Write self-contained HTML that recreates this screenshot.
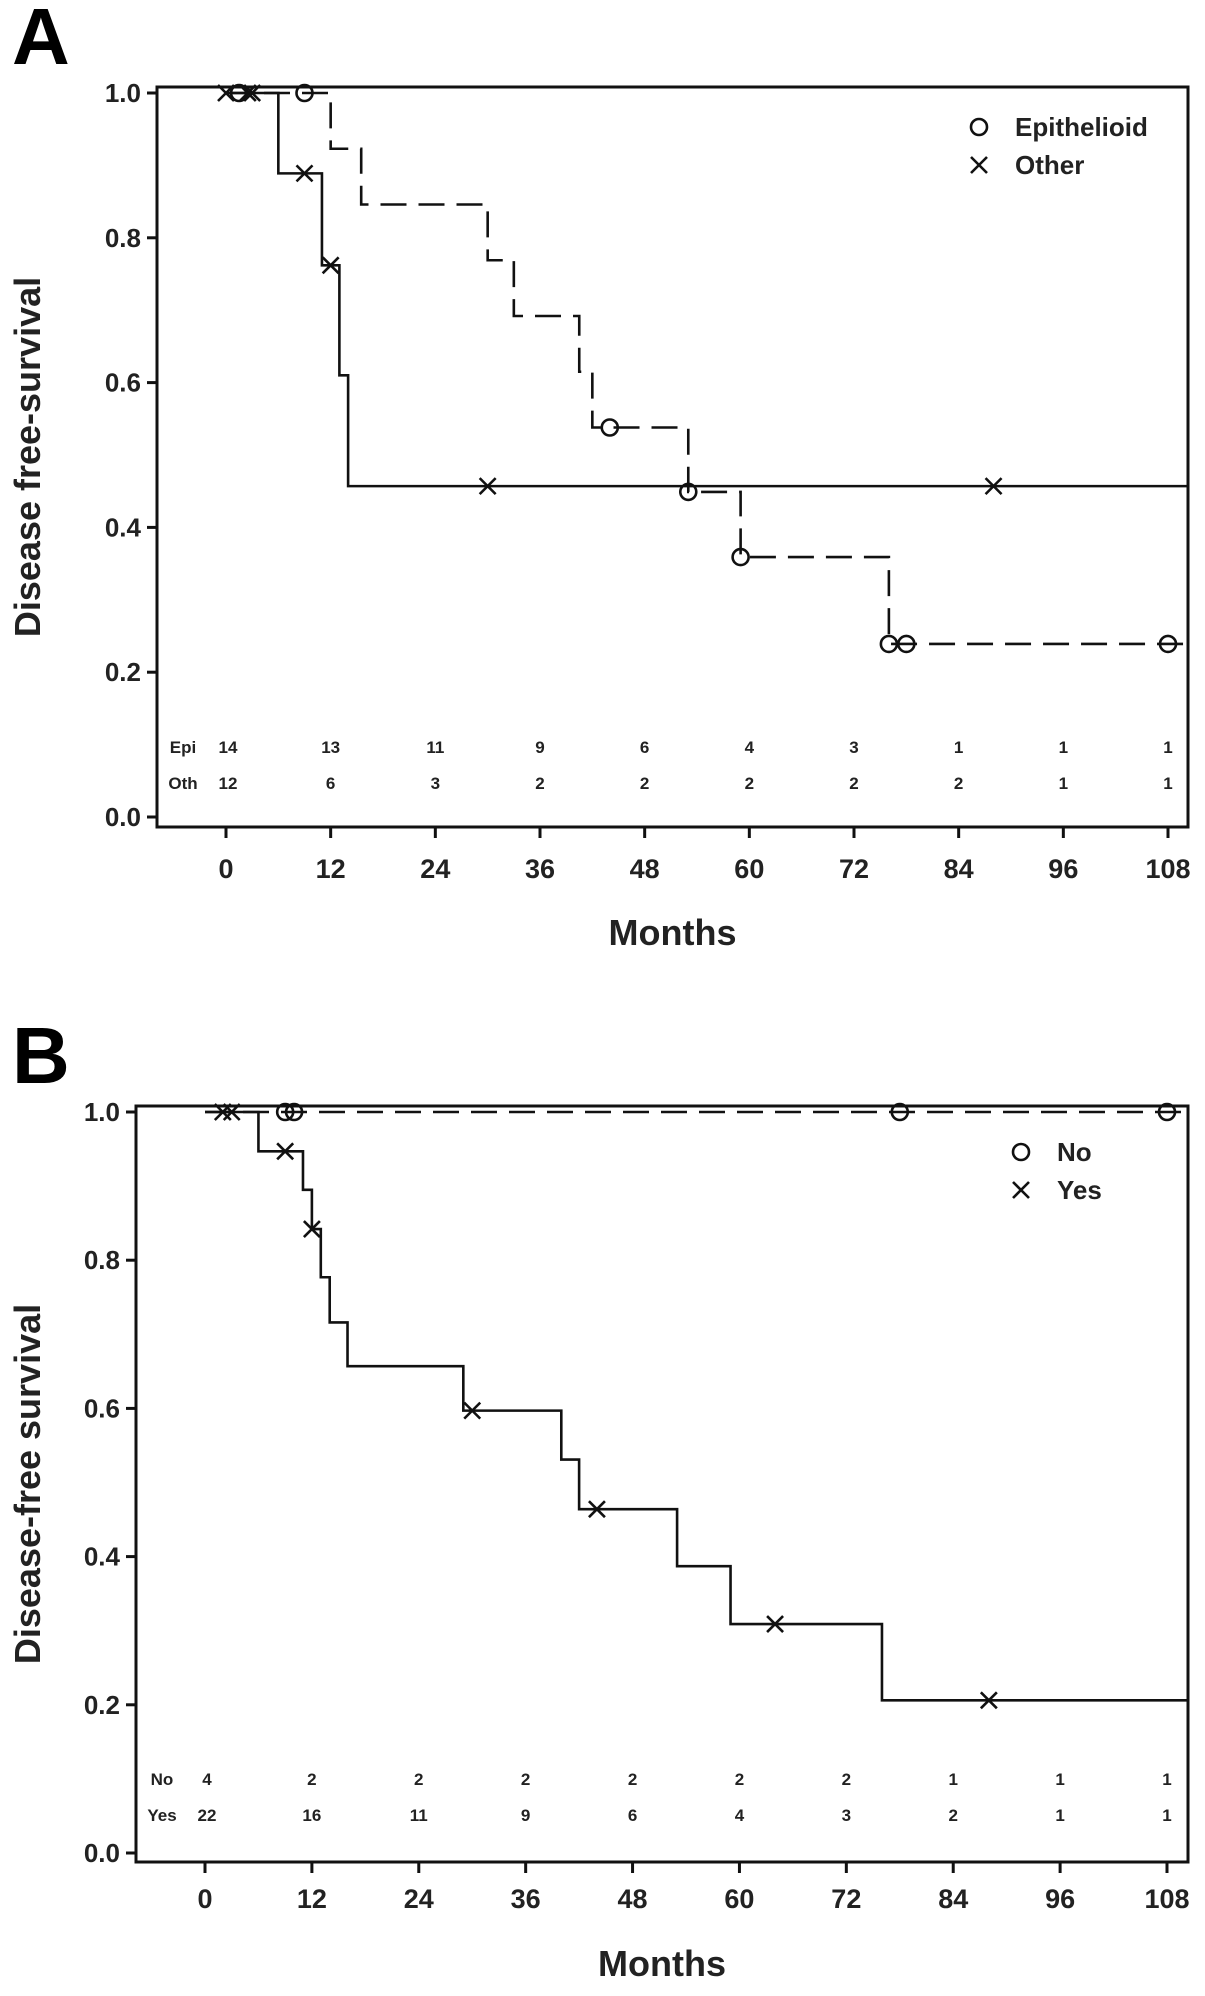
<!DOCTYPE html>
<html><head><meta charset="utf-8">
<style>
html,body{margin:0;padding:0;background:#fff;}
svg{display:block;font-family:"Liberation Sans",Arial,sans-serif;}
</style></head>
<body>
<svg id="fig" width="1205" height="1996" viewBox="0 0 1205 1996" xmlns="http://www.w3.org/2000/svg"></svg>
<script>
// ---- Panel A data ----
const timeTicks = [0,12,24,36,48,60,72,84,96,108];
const yTicks = [0.0,0.2,0.4,0.6,0.8,1.0];
const yTickLabels = ["0.0","0.2","0.4","0.6","0.8","1.0"];
const epiTimes = [0,12,15.5,30,33,40.5,42,53,59,76,108];
const epiSurv  = [1.0,0.923,0.846,0.769,0.692,0.615,0.538,0.449,0.359,0.239,0.239];
const epiCensT = [1.5,9,44,53,59,76,78,108];
const epiCensS = [1.0,1.0,0.538,0.449,0.359,0.239,0.239,0.239];
const othTimes = [0,6,11,13,14,108];
const othSurv  = [1.0,0.889,0.762,0.61,0.457,0.457];
const othCensT = [0,2.5,3,9,12,30,88];
const othCensS = [1.0,1.0,1.0,0.889,0.762,0.457,0.457];
const riskEpi = [14,13,11,9,6,4,3,1,1,1];
const riskOth = [12,6,3,2,2,2,2,2,1,1];
// ---- Panel B data ----
const noTimes = [0,108];
const noSurv  = [1.0,1.0];
const noCensT = [9,10,78,108];
const noCensS = [1.0,1.0,1.0,1.0];
const yesTimes = [0,6,11,12,13,14,16,29,40,42,53,59,76,108];
const yesSurv  = [1.0,0.947,0.895,0.842,0.777,0.716,0.657,0.597,0.531,0.464,0.387,0.309,0.206,0.206];
const yesCensT = [2,3,9,12,30,44,64,88];
const yesCensS = [1.0,1.0,0.947,0.842,0.597,0.464,0.309,0.206];
const riskNo  = [4,2,2,2,2,2,2,1,1,1];
const riskYes = [22,16,11,9,6,4,3,2,1,1];

const NS="http://www.w3.org/2000/svg";
const svg=document.getElementById('fig');
function mk(tag,attrs,parent,txt){const e=document.createElementNS(NS,tag);for(const k in attrs)e.setAttribute(k,attrs[k]);if(txt!==undefined)e.textContent=txt;(parent||svg).appendChild(e);return e;}

function panel(cfg){
  const g=mk('g',{});
  
  
  const X=t=>cfg.x0+(t/108)*(cfg.x108-cfg.x0);
  const Y=s=>cfg.y0+(s)*(cfg.y1-cfg.y0);
  const L=mk('text',{x:cfg.letterX,y:cfg.letterY,'font-size':80,'font-weight':'900'},g,cfg.letter);
  
  
  const box=mk('rect',{x:cfg.bl,y:cfg.bt,width:cfg.br-cfg.bl,height:cfg.bb-cfg.bt,fill:'none',stroke:'#111','stroke-width':3},g);
  
  
  yTicks.forEach((v,i)=>{
    mk('line',{x1:cfg.bl-10,x2:cfg.bl,y1:Y(v),y2:Y(v),stroke:'#111','stroke-width':3},g);
    const t=mk('text',{x:cfg.bl-16,y:Y(v)+9,'font-size':26,'font-weight':'bold','text-anchor':'end',fill:'#222'},g,yTickLabels[i]);
    
    
  });
  timeTicks.forEach(v=>{
    mk('line',{x1:X(v),x2:X(v),y1:cfg.bb,y2:cfg.bb+11,stroke:'#111','stroke-width':3},g);
    const t=mk('text',{x:X(v),y:cfg.tickY,'font-size':27,'font-weight':'bold','text-anchor':'middle',fill:'#222'},g,String(v));
    
    
  });
  const xt=mk('text',{x:(cfg.bl+cfg.br)/2,y:cfg.monthsY,'font-size':36,'font-weight':'bold','text-anchor':'middle',fill:'#222'},g,'Months');
  
  
  const yt=mk('text',{x:0,y:0,'font-size':36,'font-weight':'bold','text-anchor':'middle',fill:'#222',transform:`translate(${cfg.ylabX},${(cfg.bt+cfg.bb)/2}) rotate(-90)`},g,cfg.ylab);
  
  
  cfg.series.forEach(s=>{
    let d=`M${X(s.t[0])},${Y(s.s[0])}`;
    for(let i=1;i<s.t.length;i++){d+=` H${X(s.t[i])} V${Y(s.s[i])}`;}
    d+=` H${cfg.br}`;
    const p=mk('path',{d:d,fill:'none',stroke:'#111','stroke-width':2.6,'stroke-dasharray':s.dash?'26,12':'none'},g);
    
    
    s.ct.forEach((t,i)=>{
      const cx=X(t),cy=Y(s.cs[i]);
      let m;
      if(s.mark==='o'){m=mk('circle',{cx:cx,cy:cy,r:8,fill:'none',stroke:'#111','stroke-width':2.6},g);}
      else{m=mk('path',{d:`M${cx-8},${cy-8}L${cx+8},${cy+8}M${cx-8},${cy+8}L${cx+8},${cy-8}`,stroke:'#111','stroke-width':2.6},g);}
      
      
    });
  });
  cfg.legend.forEach((e,i)=>{
    const ly=cfg.legY+i*38;
    let m;
    if(e.mark==='o'){m=mk('circle',{cx:cfg.legX,cy:ly,r:8,fill:'none',stroke:'#111','stroke-width':2.6},g);}
    else{m=mk('path',{d:`M${cfg.legX-8},${ly-8}L${cfg.legX+8},${ly+8}M${cfg.legX-8},${ly+8}L${cfg.legX+8},${ly-8}`,stroke:'#111','stroke-width':2.6},g);}
    
    
    const t=mk('text',{x:cfg.legX+36,y:ly+9,'font-size':26,'font-weight':'bold',fill:'#222'},g,e.label);
    
    
  });
  cfg.risk.forEach((r,ri)=>{
    const ry=cfg.riskY[ri];
    const lab=mk('text',{x:cfg.riskLabX,y:ry+6,'font-size':17,'font-weight':'bold','text-anchor':'middle',fill:'#222'},g,r.label);
    
    
    r.vals.forEach((v,i)=>{
      const t=mk('text',{x:X(timeTicks[i])+(i===0?2:0),y:ry+6,'font-size':17,'font-weight':'bold','text-anchor':'middle',fill:'#222'},g,String(v));
      
      
    });
  });
}

panel({name:'panel-a',letter:'A',letterX:12,letterY:64,bl:157,br:1188,bt:87,bb:827,x0:226,x108:1168,y0:817,y1:93,
  tickY:878,monthsY:945,ylab:'Disease free-survival',ylabX:40,
  series:[{name:'epithelioid',t:epiTimes,s:epiSurv,ct:epiCensT,cs:epiCensS,mark:'o',dash:true},
          {name:'other',t:othTimes,s:othSurv,ct:othCensT,cs:othCensS,mark:'x',dash:false}],
  legend:[{mark:'o',label:'Epithelioid'},{mark:'x',label:'Other'}],legX:979,legY:127,
  risk:[{label:'Epi',vals:riskEpi},{label:'Oth',vals:riskOth}],riskY:[747,783],riskLabX:183});

panel({name:'panel-b',letter:'B',letterX:12,letterY:1083,bl:136,br:1188,bt:1106,bb:1862,x0:205,x108:1167,y0:1853,y1:1112,
  tickY:1908,monthsY:1976,ylab:'Disease-free survival',ylabX:40,
  series:[{name:'no',t:noTimes,s:noSurv,ct:noCensT,cs:noCensS,mark:'o',dash:true},
          {name:'yes',t:yesTimes,s:yesSurv,ct:yesCensT,cs:yesCensS,mark:'x',dash:false}],
  legend:[{mark:'o',label:'No'},{mark:'x',label:'Yes'}],legX:1021,legY:1152,
  risk:[{label:'No',vals:riskNo},{label:'Yes',vals:riskYes}],riskY:[1779,1815],riskLabX:162});
</script>
</body></html>
